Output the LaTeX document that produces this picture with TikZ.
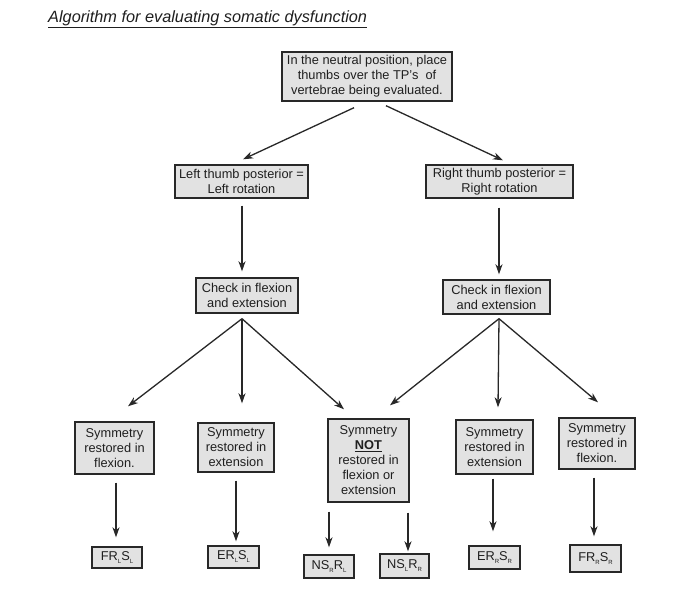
\documentclass[tikz,border=0pt]{standalone}
\usepackage{fontspec}
\setmainfont{Liberation Sans}
\usetikzlibrary{arrows.meta}
\definecolor{boxfill}{RGB}{226,226,226}
\definecolor{ink}{RGB}{40,40,40}
\newcommand{\sbx}[1]{\raisebox{-0.45ex}{\fontsize{6}{6}\selectfont #1}}
\begin{document}
\begin{tikzpicture}[x=1pt,y=-1pt,
  box/.style={draw=ink,fill=boxfill,line width=1.4pt,align=center,inner sep=0pt,
    text=black!88,font=\fontsize{12.8}{15}\selectfont},
  fbox/.style={box,font=\fontsize{12.8}{13}\selectfont},
  arr/.style={draw=ink,line width=1.3pt,-{Stealth[length=10pt,width=7pt,inset=3pt]}}]
\useasboundingbox (0,0) rectangle (691,597);
\fill[white] (0,0) rectangle (691,597);
\node[anchor=base west,inner sep=0pt,text=black!88,font=\fontsize{16.3}{18}\selectfont\itshape] (title) at (48,22)
  {\underline{Algorithm for evaluating somatic dysfunction}};
% level 1
\node[box,minimum width=170,minimum height=49] (top) at (367,76.5)
  {In the neutral position, place\\thumbs over the TP's\ \ of\\vertebrae being evaluated.};
% level 2
\node[box,minimum width=133,minimum height=33] (L2) at (241.5,181.5) {Left thumb posterior =\\Left rotation};
\node[box,minimum width=147,minimum height=33] (R2) at (499.5,181.5) {Right thumb posterior =\\Right rotation};
% level 3
\node[box,minimum width=102,minimum height=35] (CL) at (247,295.5) {Check in flexion\\and extension};
\node[box,minimum width=107,minimum height=34] (CR) at (496.5,297) {Check in flexion\\and extension};
% level 4
\node[box,minimum width=79,minimum height=52] (B1) at (114.5,448) {Symmetry\\restored in\\flexion.};
\node[box,minimum width=76,minimum height=49] (B2) at (236,447.5) {Symmetry\\restored in\\extension};
\node[box,minimum width=81,minimum height=83] (B3) at (368.5,460.5) {Symmetry\\\underline{\textbf{NOT}}\\restored in\\flexion or\\extension};
\node[box,minimum width=77,minimum height=54] (B4) at (494.5,447) {Symmetry\\restored in\\extension};
\node[box,minimum width=76,minimum height=51] (B5) at (597,443.5) {Symmetry\\restored in\\flexion.};
% level 5
\node[fbox,minimum width=50,minimum height=21] (F1) at (117,557.5) {FR\sbx{L}S\sbx{L}};
\node[fbox,minimum width=51,minimum height=22] (F2) at (233.5,557) {ER\sbx{L}S\sbx{L}};
\node[fbox,minimum width=50,minimum height=23] (F3) at (329,566.5) {NS\sbx{R}R\sbx{L}};
\node[fbox,minimum width=49,minimum height=24] (F4) at (404.5,566) {NS\sbx{L}R\sbx{R}};
\node[fbox,minimum width=51,minimum height=23] (F5) at (494.5,557.5) {ER\sbx{R}S\sbx{R}};
\node[fbox,minimum width=51,minimum height=27] (F6) at (595.5,558.5) {FR\sbx{R}S\sbx{R}};
% connectors
\draw[arr] ([shift={(-13,6)}]top.south) -- ([shift={(1.5,-5)}]L2.north);
\draw[arr] ([shift={(19,4)}]top.south) -- ([shift={(3.5,-4)}]R2.north);
\draw[arr] ([shift={(0.5,7)}]L2.south) -- ([shift={(-5,-6)}]CL.north);
\draw[arr] ([shift={(-0.5,9)}]R2.south) -- ([shift={(2.5,-5)}]CR.north);
\draw[arr] ([shift={(-5,5)}]CL.south) -- ([shift={(13.5,-15)}]B1.north);
\draw[arr] ([shift={(-5,5)}]CL.south) -- ([shift={(6,-19)}]B2.north);
\draw[arr] ([shift={(-5,5)}]CL.south) -- ([shift={(-24.5,-9)}]B3.north);
\draw[arr] ([shift={(2.5,4)}]CR.south) -- ([shift={(21.5,-13)}]B3.north);
\draw[arr] ([shift={(2.5,4)}]CR.south) -- ([shift={(3.5,-12)}]B4.north);
\draw[arr] ([shift={(2.5,4)}]CR.south) -- ([shift={(1,-15)}]B5.north);
\draw[arr] ([shift={(1.5,8)}]B1.south) -- ([shift={(-1,-9)}]F1.north);
\draw[arr] ([shift={(0,8)}]B2.south) -- ([shift={(2.5,-4)}]F2.north);
\draw[arr] ([shift={(-39.5,9)}]B3.south) -- ([shift={(0,-7)}]F3.north);
\draw[arr] ([shift={(39.5,10)}]B3.south) -- ([shift={(3.5,-2)}]F4.north);
\draw[arr] ([shift={(-1.5,4)}]B4.south) -- ([shift={(-1.5,-14)}]F5.north);
\draw[arr] ([shift={(-3,8)}]B5.south) -- ([shift={(-1.5,-8)}]F6.north);
\end{tikzpicture}
\end{document}
